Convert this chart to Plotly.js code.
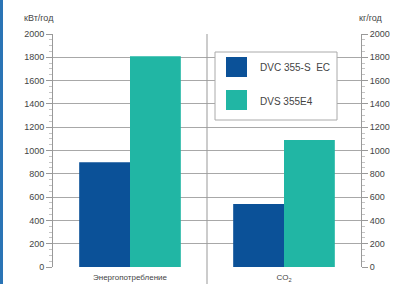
<!DOCTYPE html>
<html>
<head>
<meta charset="utf-8">
<script src="https://cdn.plot.ly/plotly-3.0.1.min.js"></script>
<style>html,body{margin:0;padding:0;background:#fff;}#chart{width:414px;height:284px;}</style>
</head>
<body>
<div id="chart"></div>
<script>
const categories = ["Энергопотребление", "CO<sub>2</sub>"];
const seriesNames = ["DVC 355-S  EC", "DVS 355E4"];
const dvcValues = [900, 540];
const dvsValues = [1810, 1090];
const seriesColors = ["#0b5198", "#21b6a4"];
const leftTitle = "кВт/год";
const rightTitle = "кг/год";

const W = 414, H = 284, L = 53, R = 53, T = 34, B = 17;
const pw = W - L - R, ph = H - T - B;
const px = x => (x - L) / pw;
const py = y => (H - B - y) / ph;

const traces = [
  {type: "bar", x: [0, 1], y: dvcValues, name: seriesNames[0], marker: {color: seriesColors[0]}, showlegend: false, hoverinfo: "none"},
  {type: "bar", x: [0, 1], y: dvsValues, name: seriesNames[1], marker: {color: seriesColors[1]}, showlegend: false, hoverinfo: "none"},
  {type: "scatter", x: [0, 1], y: [0, 0], yaxis: "y2", mode: "none", showlegend: false, hoverinfo: "none"}
];

const axisCommon = {
  range: [0, 2000], dtick: 200, tick0: 0,
  showline: true, linecolor: "#999", linewidth: 1,
  ticks: "outside", ticklen: 6, tickcolor: "#999", tickwidth: 1,
  minor: {dtick: 50, ticks: "outside", ticklen: 3, tickcolor: "#c4c4c4", showgrid: false},
  tickfont: {family: "Liberation Sans, Arial, sans-serif", size: 9, color: "#444"},
  zeroline: false, fixedrange: true
};

const shapes = [
  {type: "rect", xref: "paper", yref: "paper", x0: px(0), x1: px(3), y0: py(H), y1: py(0), fillcolor: "#2a74b5", line: {width: 0}, layer: "above"},
  {type: "line", xref: "x", yref: "paper", x0: 0.5, x1: 0.5, y0: py(290), y1: 1, line: {color: "#999", width: 1}},
  {type: "rect", xref: "paper", yref: "paper", x0: px(215), x1: px(337), y0: py(120), y1: py(52), fillcolor: "#fff", line: {color: "#aaa", width: 1}, layer: "above"},
  {type: "rect", xref: "paper", yref: "paper", x0: px(226), x1: px(247), y0: py(77), y1: py(57), fillcolor: seriesColors[0], line: {width: 0}, layer: "above"},
  {type: "rect", xref: "paper", yref: "paper", x0: px(226), x1: px(247), y0: py(110), y1: py(90), fillcolor: seriesColors[1], line: {width: 0}, layer: "above"}
];

const font = {family: "Liberation Sans, Arial, sans-serif", size: 9, color: "#444"};
const annotations = [
  {xref: "paper", yref: "paper", x: px(22), y: py(18), text: leftTitle, showarrow: false, xanchor: "left", yanchor: "middle", font: font},
  {xref: "paper", yref: "paper", x: px(357), y: py(18), text: rightTitle, showarrow: false, xanchor: "left", yanchor: "middle", font: font},
  {xref: "paper", yref: "paper", x: px(258), y: py(68), text: seriesNames[0], showarrow: false, xanchor: "left", yanchor: "middle", font: {family: font.family, size: 10, color: "#444"}},
  {xref: "paper", yref: "paper", x: px(258), y: py(101), text: seriesNames[1], showarrow: false, xanchor: "left", yanchor: "middle", font: {family: font.family, size: 10, color: "#444"}}
];

const layout = {
  width: W, height: H,
  margin: {l: L, r: R, t: T, b: B, pad: 0},
  paper_bgcolor: "#fff", plot_bgcolor: "#fff",
  barmode: "group", bargap: 0.34, bargroupgap: 0,
  showlegend: false,
  font: font,
  xaxis: {
    range: [-0.5, 1.5], tickvals: [0, 1], ticktext: categories,
    showline: false, ticks: "", showgrid: false, zeroline: false, fixedrange: true,
    ticklabelstandoff: 4,
    tickfont: {family: font.family, size: 8, color: "#444"}
  },
  yaxis: Object.assign({}, axisCommon, {side: "left", showgrid: true, gridcolor: "#a8a8a8", gridwidth: 1}),
  yaxis2: Object.assign({}, axisCommon, {side: "right", overlaying: "y", showgrid: false}),
  shapes: shapes,
  annotations: annotations
};

Plotly.newPlot("chart", traces, layout, {staticPlot: true, displayModeBar: false});
</script>
</body>
</html>
